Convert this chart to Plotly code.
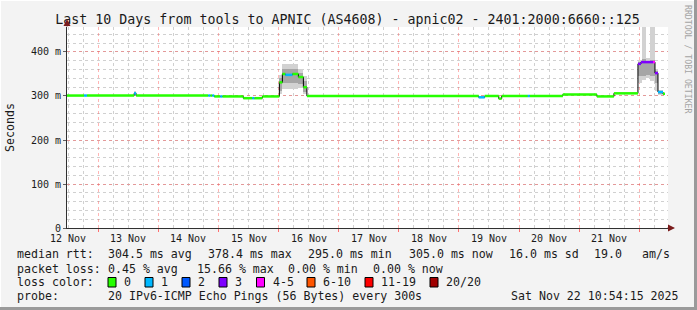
import pandas as pd
import plotly.graph_objects as go

# ---------------- data ----------------
WINDOW_START = "2025-11-12 11:30"
WINDOW_HOURS = 240

# median rtt segments (hours since window start)
seg_start_h = [0, 6.8, 8, 26.8, 27.6, 56.4, 57.2, 58, 58.8, 61.2, 62, 70.4, 74, 74.8, 78,
               84.8, 86, 87.2, 90, 92.4, 94.4, 95.8, 164.4, 166.8, 172.4, 173.6, 184, 184.8,
               198, 211.6, 218.4, 228, 229.2, 234, 234.8, 236, 238]
seg_end_h = [6.8, 8, 26.8, 27.6, 56.4, 57.2, 58, 58.8, 61.2, 62, 70.4, 74, 74.8, 78, 84.8,
             86, 87.2, 90, 92.4, 94.4, 95.8, 164.4, 166.8, 172.4, 173.6, 184, 184.8, 198,
             211.6, 218.4, 228, 229.2, 234, 234.8, 236, 238, 238.8]
seg_rtt_ms = [301, 301, 301, 306, 301, 301, 301, 301, 299, 299, 299, 295, 295, 295, 299,
              331, 350, 348, 350, 343, 320, 300, 297, 300, 294, 300, 300, 300,
              303.5, 299, 306, 373, 377, 377, 352, 309, 305]
seg_loss_class = [0, 1, 0, 1, 0, 1, 0, 1, 0, 1, 0, 0, 1, 0, 0,
                  0, 0, 1, 0, 0, 0, 0, 1, 0, 0, 0, 1, 0,
                  0, 0, 0, 3, 3, 4, 3, 1, 0]

# smoke (spread of the 20 pings)
smoke_start_h = [26.8, 84.8, 86, 92.4, 94.4, 228, 229.6, 231.2, 232.8, 234.8, 236]
smoke_end_h = [27.6, 86, 92.4, 94.4, 95.8, 229.6, 231.2, 232.8, 234.8, 236, 238]
smoke_lo_ms = [300, 305, 316, 318, 304, 330, 336, 340, 333, 312, 303]
smoke_hi_ms = [311, 348, 372, 362, 345, 382, 457, 386, 457, 362, 313]
core_lo_ms = [302, 312, 330, 328, 310, 345, 345, 348, 345, 330, 305]
core_hi_ms = [309, 340, 362, 352, 335, 378, 385, 380, 382, 356, 311]

loss_labels = ["0", "1", "2", "3", "4-5", "6-10", "11-19", "20/20"]
loss_colors = ["#26ff00", "#00b8ff", "#0059ff", "#7e00ff", "#ff00ff", "#ff5500", "#ff0000", "#a00000"]

day_labels = ["12 Nov", "13 Nov", "14 Nov", "15 Nov", "16 Nov", "17 Nov", "18 Nov",
              "19 Nov", "20 Nov", "21 Nov"]
day_label_times = ["2025-11-12 12:00", "2025-11-13 12:00", "2025-11-14 12:00", "2025-11-15 12:00",
                   "2025-11-16 12:00", "2025-11-17 12:00", "2025-11-18 12:00", "2025-11-19 12:00",
                   "2025-11-20 12:00", "2025-11-21 12:00"]
y_tick_vals = [0, 100, 200, 300, 400]
y_tick_text = ["0", "100 m", "200 m", "300 m", "400 m"]
Y_MAX = 456.8

title_text = "Last 10 Days from tools to APNIC (AS4608) - apnic02 - 2401:2000:6660::125"
rtt_label = "median rtt:"
rtt_items = ["304.5 ms avg", "378.4 ms max", "295.0 ms min", "305.0 ms now", "16.0 ms sd", "19.0", "am/s"]
loss_label = "packet loss:"
loss_items = ["0.45 % avg", "15.66 % max", "0.00 % min", "0.00 % now"]
color_label = "loss color:"
probe_label = "probe:"
probe_text = "20 IPv6-ICMP Echo Pings (56 Bytes) every 300s"
stamp_text = "Sat Nov 22 10:54:15 2025"

# ---------------- layout geometry (pixels) ----------------
W, H = 697, 310
L, R, T, B = 67, 29, 27, 82
PW, PH = W - L - R, H - T - B
MONO = "DejaVu Sans Mono"
TXT = "#1a1a1a"


def px_x(px):
    return (px - L) / PW


def px_y(py):
    return (H - B - py) / PH


t0 = pd.Timestamp(WINDOW_START)


def at(h):
    return t0 + pd.Timedelta(hours=h)


fig = go.Figure()

# smoke: outer and core bands as floating bars
for lo, hi, col in ((smoke_lo_ms, smoke_hi_ms, "#d2d2d2"), (core_lo_ms, core_hi_ms, "#a6a6a6")):
    fig.add_trace(go.Bar(
        x=[at((s + e) / 2) for s, e in zip(smoke_start_h, smoke_end_h)],
        width=[(e - s) * 3600000 for s, e in zip(smoke_start_h, smoke_end_h)],
        base=lo, y=[h - l for l, h in zip(lo, hi)],
        marker=dict(color=col, line=dict(width=0)), showlegend=False, hoverinfo="skip"))

# black step line of the median
fig.add_trace(go.Scatter(
    x=[at(s) for s in seg_start_h] + [at(seg_end_h[-1])],
    y=seg_rtt_ms + [seg_rtt_ms[-1]],
    mode="lines", line=dict(color="#000000", width=1, shape="hv"),
    showlegend=False, hoverinfo="skip"))

# coloured median segments by loss class
for cls, col in enumerate(loss_colors):
    xs, ys = [], []
    for s, e, v, c in zip(seg_start_h, seg_end_h, seg_rtt_ms, seg_loss_class):
        if c == cls:
            xs += [at(s), at(e), None]
            ys += [v, v, None]
    if xs:
        fig.add_trace(go.Scatter(x=xs, y=ys, mode="lines", line=dict(color=col, width=2.5),
                                 showlegend=False, hoverinfo="skip"))

ann = []
# day labels under the axis
for t, lab in zip(day_label_times, day_labels):
    ann.append(dict(x=t, xref="x", y=px_y(238), yref="paper", text=lab, showarrow=False,
                    xanchor="center", yanchor="middle", font=dict(family=MONO, size=10, color=TXT)))

# axis arrows
ann.append(dict(x=px_x(675), y=0, xref="paper", yref="paper", ax=-9, ay=0, text="",
                showarrow=True, arrowhead=2, arrowsize=1.4, arrowwidth=1, arrowcolor="#7a1c1c"))
ann.append(dict(x=0, y=px_y(19), xref="paper", yref="paper", ax=0, ay=9, text="",
                showarrow=True, arrowhead=2, arrowsize=1.4, arrowwidth=1, arrowcolor="#7a1c1c"))

# y title and side credit
ann.append(dict(x=px_x(10), y=px_y(128), xref="paper", yref="paper", text="Seconds", textangle=-90,
                xanchor="center", yanchor="middle",
                showarrow=False, font=dict(family=MONO, size=11.6, color=TXT)))
ann.append(dict(x=px_x(688), y=px_y(59), xref="paper", yref="paper", text="RRDTOOL / TOBI OETIKER",
                xanchor="center", yanchor="middle",
                textangle=90, showarrow=False, font=dict(family=MONO, size=8.2, color="#a4a4a4")))


def text_at(px, py, s, anchor="left"):
    ann.append(dict(x=px_x(px), y=px_y(py), xref="paper", yref="paper", text=s, showarrow=False,
                    xanchor=anchor, yanchor="middle", font=dict(family=MONO, size=11.6, color=TXT)))


ROW1, ROW2, ROW3, ROW4 = 254, 268.5, 282, 296
text_at(15, ROW1, rtt_label)
for px, s in zip([106.3, 206.3, 305.7, 406.6, 506.6, 592, 640], rtt_items):
    text_at(px, ROW1, s)
text_at(15, ROW2, loss_label)
for px, s in zip([106.3, 194.6, 285.7, 371.4], loss_items):
    text_at(px, ROW2, s)
text_at(15, ROW3, color_label)
box_left_px = [108, 145, 182, 219, 256.5, 307, 365, 430]
shapes = []
for bx, lab, col in zip(box_left_px, loss_labels, loss_colors):
    shapes.append(dict(type="rect", xref="paper", yref="paper", x0=px_x(bx), x1=px_x(bx + 8),
                       y0=px_y(277.5), y1=px_y(287), fillcolor=col, line=dict(color="#000000", width=1)))
    text_at(bx + 14, ROW3, lab)
text_at(15, ROW4, probe_label)
text_at(106.3, ROW4, probe_text)
text_at(681, ROW4, stamp_text, anchor="right")

# frame: light top/left, dark bottom/right
shapes += [
    dict(type="line", xref="paper", yref="paper", x0=px_x(0), x1=px_x(W), y0=px_y(0.5), y1=px_y(0.5),
         line=dict(color="#ffffff", width=1)),
    dict(type="line", xref="paper", yref="paper", x0=px_x(0.5), x1=px_x(0.5), y0=px_y(0), y1=px_y(H),
         line=dict(color="#ffffff", width=1)),
    dict(type="line", xref="paper", yref="paper", x0=px_x(0), x1=px_x(W), y0=px_y(H - 1.5), y1=px_y(H - 1.5),
         line=dict(color="#9a9a9a", width=3)),
    dict(type="line", xref="paper", yref="paper", x0=px_x(W - 1.5), x1=px_x(W - 1.5), y0=px_y(0), y1=px_y(H),
         line=dict(color="#9a9a9a", width=3)),
]

fig.update_layout(
    width=W, height=H, margin=dict(l=L, r=R, t=T, b=B, pad=0),
    paper_bgcolor="#f3f3f3", plot_bgcolor="#ffffff",
    barmode="overlay", bargap=0, showlegend=False,
    title=dict(text=title_text, x=347.5 / W, xref="container", xanchor="center",
               y=1 - 19 / H, yref="container", yanchor="middle",
               font=dict(family=MONO, size=13.3, color=TXT)),
    xaxis=dict(type="date", range=[at(0), at(WINDOW_HOURS)], tick0="2025-11-13 00:00", dtick=86400000,
               showticklabels=False, showgrid=True, gridcolor="rgba(255,70,70,0.4)", griddash="dot",
               gridwidth=1, ticks="outside", ticklen=3, tickcolor="#ff7070",
               minor=dict(dtick=6 * 3600000, tick0="2025-11-13 00:00", showgrid=True,
                          gridcolor="#d0d0d0", griddash="dot", gridwidth=1),
               showline=True, linecolor="#303030", linewidth=1, zeroline=False, fixedrange=True),
    yaxis=dict(range=[0, Y_MAX], tickmode="array", tickvals=y_tick_vals, ticktext=y_tick_text,
               showgrid=True, gridcolor="rgba(255,70,70,0.4)", griddash="dot", gridwidth=1,
               minor=dict(dtick=20, tick0=0, showgrid=True, gridcolor="#d0d0d0", griddash="dot", gridwidth=1),
               ticks="outside", ticklen=3, tickcolor="#606060",
               tickfont=dict(family=MONO, size=10, color=TXT),
               showline=True, linecolor="#303030", linewidth=1, zeroline=False, fixedrange=True),
    annotations=ann, shapes=shapes,
)

fig.write_html("out.html")
